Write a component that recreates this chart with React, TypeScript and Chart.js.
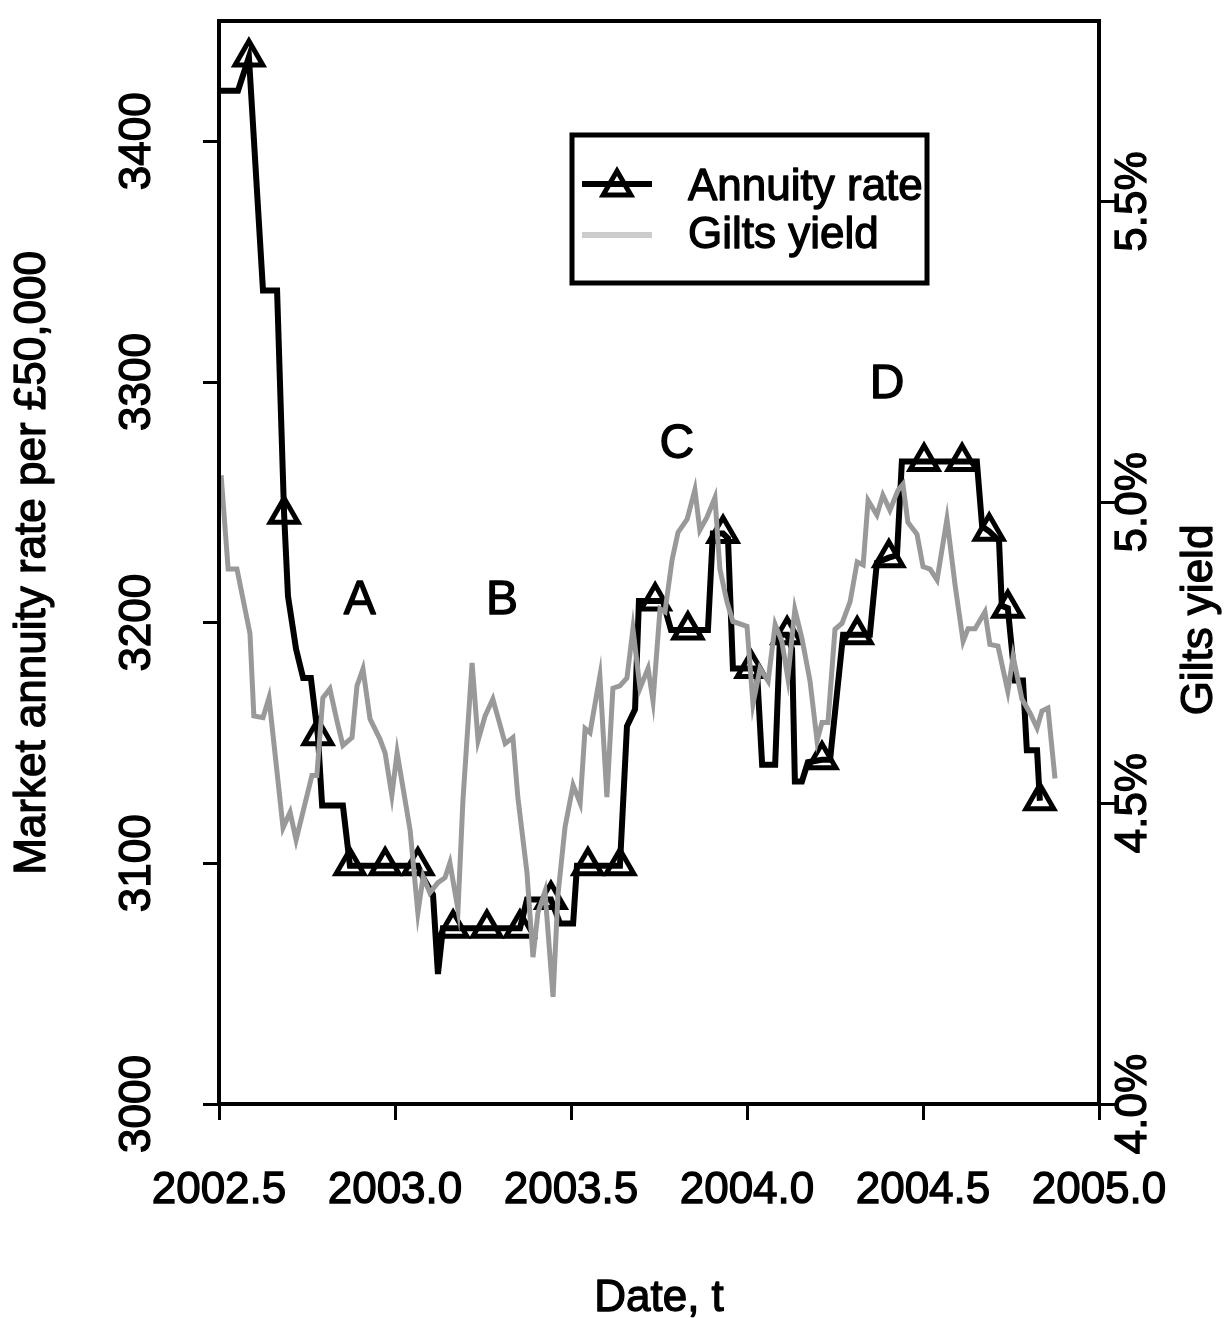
import React, { useEffect, useRef } from 'react';
import { Chart, registerables } from 'chart.js';

Chart.register(...registerables);

// ---- data ----
const annuityDates = [
  2002.500, 2002.554, 2002.585, 2002.625, 2002.665, 2002.685, 2002.696, 2002.719, 2002.739, 2002.761,
  2002.781, 2002.793, 2002.852, 2002.872, 2002.972, 2003.065, 2003.080, 2003.108, 2003.122, 2003.136,
  2003.165, 2003.261, 2003.355, 2003.375, 2003.443, 2003.469, 2003.506, 2003.517, 2003.548, 2003.639,
  2003.659, 2003.682, 2003.693, 2003.739, 2003.761, 2003.784, 2003.832, 2003.889, 2003.903, 2003.932,
  2003.946, 2003.960, 2004.012, 2004.028, 2004.043, 2004.080, 2004.094, 2004.114, 2004.128, 2004.136,
  2004.156, 2004.173, 2004.213, 2004.236, 2004.273, 2004.313, 2004.349, 2004.369, 2004.403, 2004.426,
  2004.440, 2004.503, 2004.611, 2004.653, 2004.668, 2004.688, 2004.716, 2004.724, 2004.741, 2004.753,
  2004.761, 2004.784, 2004.795, 2004.824, 2004.832,
];
const annuityRates = [
  3421, 3421, 3435, 3338, 3338, 3245, 3211, 3189, 3177, 3177,
  3153, 3124, 3124, 3099, 3099, 3099, 3094, 3087, 3054, 3073,
  3073, 3073, 3073, 3085, 3085, 3075, 3075, 3099, 3099, 3099,
  3157, 3164, 3209, 3209, 3209, 3197, 3197, 3197, 3237, 3237,
  3235, 3181, 3181, 3181, 3141, 3141, 3195, 3195, 3189, 3134,
  3134, 3142, 3143, 3143, 3195, 3195, 3195, 3225, 3227, 3228,
  3267, 3267, 3267, 3267, 3240, 3238, 3234, 3207, 3206, 3188,
  3176, 3176, 3147, 3147, 3126,
];
const annuityMarked = [
  0, 0, 1, 0, 0, 1, 0, 0, 0, 0,
  1, 0, 0, 1, 1, 1, 0, 0, 0, 0,
  1, 1, 1, 0, 1, 0, 0, 0, 1, 1,
  0, 0, 0, 1, 0, 0, 1, 0, 0, 1,
  0, 0, 1, 0, 0, 0, 0, 1, 0, 0,
  0, 0, 1, 0, 0, 1, 0, 0, 1, 0,
  0, 1, 1, 0, 0, 1, 0, 0, 1, 0,
  0, 0, 0, 0, 1,
];

const giltDates = [
  2002.506, 2002.526, 2002.551, 2002.588, 2002.599, 2002.625, 2002.642, 2002.682, 2002.702, 2002.719,
  2002.764, 2002.778, 2002.795, 2002.815, 2002.835, 2002.852, 2002.878, 2002.892, 2002.909, 2002.929,
  2002.957, 2002.972, 2002.991, 2003.006, 2003.043, 2003.065, 2003.080, 2003.099, 2003.122, 2003.142,
  2003.156, 2003.179, 2003.193, 2003.219, 2003.236, 2003.256, 2003.278, 2003.313, 2003.335, 2003.349,
  2003.375, 2003.392, 2003.406, 2003.426, 2003.449, 2003.463, 2003.483, 2003.506, 2003.526, 2003.540,
  2003.554, 2003.582, 2003.602, 2003.619, 2003.639, 2003.659, 2003.676, 2003.696, 2003.719, 2003.733,
  2003.753, 2003.767, 2003.787, 2003.804, 2003.830, 2003.852, 2003.866, 2003.886, 2003.909, 2003.923,
  2003.943, 2003.960, 2004.000, 2004.017, 2004.037, 2004.060, 2004.080, 2004.099, 2004.116, 2004.136,
  2004.156, 2004.179, 2004.199, 2004.213, 2004.230, 2004.250, 2004.270, 2004.293, 2004.313, 2004.330,
  2004.344, 2004.369, 2004.386, 2004.406, 2004.429, 2004.443, 2004.457, 2004.483, 2004.500, 2004.520,
  2004.540, 2004.568, 2004.591, 2004.614, 2004.628, 2004.648, 2004.676, 2004.690, 2004.713, 2004.741,
  2004.756, 2004.781, 2004.804, 2004.824, 2004.838, 2004.855, 2004.875,
];
const giltYields = [
  5.045, 4.889, 4.889, 4.782, 4.645, 4.642, 4.675, 4.459, 4.485, 4.439,
  4.546, 4.546, 4.675, 4.690, 4.637, 4.596, 4.609, 4.695, 4.723, 4.640,
  4.607, 4.583, 4.513, 4.584, 4.455, 4.318, 4.378, 4.351, 4.368, 4.376,
  4.401, 4.323, 4.505, 4.733, 4.604, 4.645, 4.673, 4.599, 4.609, 4.510,
  4.384, 4.244, 4.318, 4.353, 4.178, 4.348, 4.460, 4.530, 4.500, 4.624,
  4.617, 4.711, 4.510, 4.691, 4.695, 4.708, 4.790, 4.691, 4.724, 4.670,
  4.823, 4.818, 4.904, 4.950, 4.972, 5.021, 4.954, 4.975, 5.008, 4.889,
  4.835, 4.802, 4.794, 4.665, 4.724, 4.703, 4.797, 4.769, 4.708, 4.822,
  4.774, 4.703, 4.604, 4.634, 4.634, 4.789, 4.799, 4.835, 4.901, 4.896,
  5.003, 4.979, 5.012, 4.987, 5.020, 5.030, 4.967, 4.947, 4.893, 4.889,
  4.871, 4.972, 4.863, 4.769, 4.790, 4.790, 4.818, 4.764, 4.761, 4.686,
  4.744, 4.673, 4.650, 4.625, 4.653, 4.658, 4.541,
];

const xTickValues = [2002.5, 2003.0, 2003.5, 2004.0, 2004.5, 2005.0];
const rateTickValues = [3000, 3100, 3200, 3300, 3400];
const yieldTickValues = [4.0, 4.5, 5.0, 5.5];

const phaseLetters = ['A', 'B', 'C', 'D'];
const phaseDates = [2002.900, 2003.304, 2003.801, 2004.398];
const phaseRates = [3209, 3209, 3274, 3299];

const FONT = "'Liberation Sans', Arial, Helvetica, sans-serif";
const TEXT_STROKE = 1.3;

export default function App() {
  const ref = useRef<HTMLCanvasElement>(null);

  useEffect(() => {
    const canvas = ref.current;
    if (!canvas) return;

    const font = { family: FONT, size: 44, lineHeight: 1.2 };

    const heavyText = (ctx: any, text: string, x: number, y: number) => {
      ctx.lineWidth = TEXT_STROKE;
      ctx.strokeStyle = '#000';
      ctx.lineJoin = 'round';
      ctx.strokeText(text, x, y);
      ctx.fillText(text, x, y);
    };

    const extras = {
      id: 'extras',
      afterDraw(chart: any) {
        const { ctx, chartArea, scales } = chart;
        ctx.save();
        // plot frame
        ctx.strokeStyle = '#000';
        ctx.lineWidth = 4;
        ctx.strokeRect(chartArea.left, chartArea.top, chartArea.right - chartArea.left, chartArea.bottom - chartArea.top);

        ctx.fillStyle = '#000';
        ctx.textAlign = 'center';
        ctx.textBaseline = 'middle';

        // phase letters
        ctx.font = `48px ${FONT}`;
        phaseLetters.forEach((t, i) => {
          heavyText(ctx, t, scales.x.getPixelForValue(phaseDates[i]), scales.y.getPixelForValue(phaseRates[i]));
        });

        // axis titles
        ctx.font = `44px ${FONT}`;
        heavyText(ctx, 'Date, t', (chartArea.left + chartArea.right) / 2, 1299);

        ctx.save();
        ctx.translate(33, 563);
        ctx.rotate(-Math.PI / 2);
        heavyText(ctx, 'Market annuity rate per £50,000', 0, 0);
        ctx.restore();

        ctx.save();
        ctx.translate(1200, 620);
        ctx.rotate(-Math.PI / 2);
        heavyText(ctx, 'Gilts yield', 0, 0);
        ctx.restore();

        // legend
        ctx.fillStyle = '#fff';
        ctx.fillRect(572, 135, 355, 148);
        ctx.lineWidth = 5;
        ctx.strokeStyle = '#000';
        ctx.lineJoin = 'miter';
        ctx.strokeRect(572, 135, 355, 148);
        ctx.beginPath();
        ctx.moveTo(582, 184);
        ctx.lineTo(652, 184);
        ctx.lineWidth = 6;
        ctx.stroke();
        // triangle marker
        const r = 16, cx = 617, cy = 187;
        ctx.beginPath();
        ctx.moveTo(cx, cy - r);
        ctx.lineTo(cx + r * Math.sin((2 * Math.PI) / 3), cy - r * Math.cos((2 * Math.PI) / 3));
        ctx.lineTo(cx + r * Math.sin((4 * Math.PI) / 3), cy - r * Math.cos((4 * Math.PI) / 3));
        ctx.closePath();
        ctx.lineWidth = 5;
        ctx.stroke();
        ctx.beginPath();
        ctx.moveTo(582, 235);
        ctx.lineTo(652, 235);
        ctx.lineWidth = 6;
        ctx.strokeStyle = '#cccccc';
        ctx.stroke();
        ctx.fillStyle = '#000';
        ctx.textAlign = 'left';
        ctx.textBaseline = 'middle';
        heavyText(ctx, 'Annuity rate', 688, 188);
        heavyText(ctx, 'Gilts yield', 688, 236);
        ctx.restore();
      },
    };

    const grid = {
      drawOnChartArea: false,
      drawTicks: true,
      tickLength: 16,
      tickWidth: 3,
      tickColor: '#000',
    };

    const tickCommon = {
      autoSkip: false,
      color: '#000',
      textStrokeColor: '#000',
      textStrokeWidth: TEXT_STROKE,
      font,
    };

    const chart = new Chart(canvas, {
      type: 'line',
      data: {
        datasets: [
          {
            label: 'Annuity rate',
            data: annuityDates.map((d, i) => ({ x: d, y: annuityRates[i] })),
            yAxisID: 'y',
            borderColor: '#000',
            borderWidth: 6,
            fill: false,
            pointStyle: 'triangle',
            pointRadius: (c: any) => (annuityMarked[c.dataIndex] ? 16 : 0),
            pointBorderWidth: 5,
            pointBorderColor: '#000',
            pointBackgroundColor: 'rgba(0,0,0,0)',
            order: 2,
          },
          {
            label: 'Gilts yield',
            data: giltDates.map((d, i) => ({ x: d, y: giltYields[i] })),
            yAxisID: 'y1',
            borderColor: '#999999',
            borderWidth: 5,
            fill: false,
            pointRadius: 0,
            order: 1,
          },
        ],
      },
      options: {
        animation: false,
        responsive: false,
        devicePixelRatio: 1,
        events: [],
        layout: { padding: { top: 14, left: 0, right: 0, bottom: 0 } },
        plugins: { legend: { display: false }, tooltip: { enabled: false } },
        scales: {
          x: {
            type: 'linear',
            position: 'bottom',
            min: 2002.5,
            max: 2005.0,
            bounds: 'data',
            afterBuildTicks: (s: any) => {
              s.ticks = xTickValues.map((v) => ({ value: v }));
            },
            ticks: {
              ...tickCommon,
              maxRotation: 0,
              minRotation: 0,
              padding: 44,
              callback: (v: any) => Number(v).toFixed(1),
            },
            grid,
            border: { display: false },
            afterFit: (s: any) => {
              s.height = 214;
              s.paddingLeft = 0;
              s.paddingRight = 0;
            },
          },
          y: {
            type: 'linear',
            position: 'left',
            min: 3000,
            max: 3450,
            bounds: 'data',
            afterBuildTicks: (s: any) => {
              s.ticks = rateTickValues.map((v) => ({ value: v }));
            },
            ticks: {
              ...tickCommon,
              minRotation: 90,
              maxRotation: 90,
              crossAlign: 'center',
              padding: 16,
              callback: (v: any) => String(v),
            },
            grid,
            border: { display: false },
            afterFit: (s: any) => {
              s.width = 219;
              s.paddingTop = 0;
              s.paddingBottom = 0;
            },
          },
          y1: {
            type: 'linear',
            position: 'right',
            min: 4.0,
            max: 5.8,
            bounds: 'data',
            afterBuildTicks: (s: any) => {
              s.ticks = yieldTickValues.map((v) => ({ value: v }));
            },
            ticks: {
              ...tickCommon,
              minRotation: 90,
              maxRotation: 90,
              crossAlign: 'center',
              padding: -31,
              callback: (v: any) => Number(v).toFixed(1) + '%',
            },
            grid,
            border: { display: false },
            afterFit: (s: any) => {
              s.width = 128;
              s.paddingTop = 0;
              s.paddingBottom = 0;
            },
          },
        },
      } as any,
      plugins: [extras],
    });

    return () => chart.destroy();
  }, []);

  return (
    <div style={{ position: 'absolute', left: 0, top: 0, width: 1227, height: 1318, background: '#fff' }}>
      <canvas ref={ref} width={1227} height={1318} style={{ display: 'block' }} />
    </div>
  );
}
